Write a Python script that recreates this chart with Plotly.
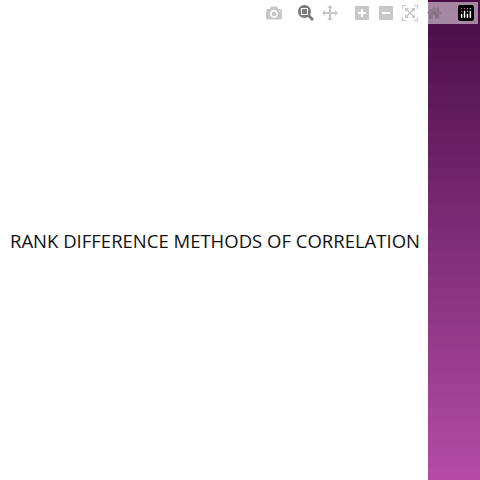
import plotly.graph_objects as go

# slide title
title_text = "RANK DIFFERENCE METHODS OF CORRELATION"

# vertical gradient levels for the side band (bottom to top)
band_levels = [[i] for i in range(40)]

fig = go.Figure()

fig.add_trace(go.Heatmap(
    z=band_levels,
    colorscale=[[0, '#b44aa6'], [0.5, '#7e2d78'], [1, '#4a0c46']],
    showscale=False,
    hoverinfo='skip',
    xaxis='x2',
    yaxis='y2'
))

fig.add_annotation(
    text=title_text,
    x=8, y=240, xref='x', yref='y',
    xanchor='left', yanchor='middle', showarrow=False,
    font=dict(family='Open Sans, sans-serif', size=18.5, color='#111111')
)

fig.update_layout(
    width=480, height=480,
    margin=dict(l=0, r=0, t=0, b=0),
    paper_bgcolor='white', plot_bgcolor='white',
    xaxis=dict(visible=False, range=[0, 480]),
    yaxis=dict(visible=False, range=[0, 480]),
    xaxis2=dict(visible=False, domain=[428 / 480, 1]),
    yaxis2=dict(visible=False, domain=[0, 1], anchor='x2'),
)

fig.write_html("out.html", post_script="document.body.style.margin='0';document.body.style.overflow='hidden';")
